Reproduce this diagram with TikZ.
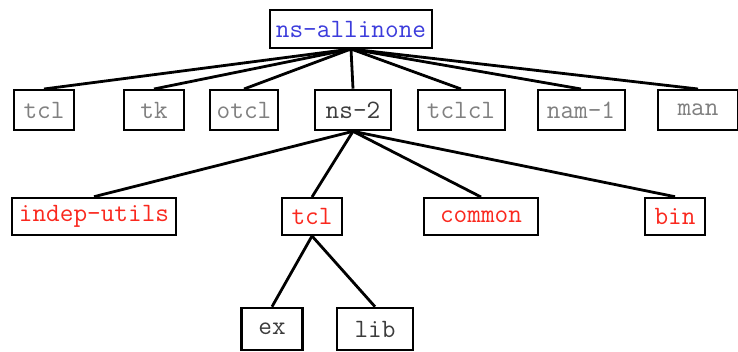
\documentclass[tikz,border=0pt]{standalone}
\usepackage{xcolor}
\usetikzlibrary{positioning}

\definecolor{dirblue}{RGB}{60,60,220}
\definecolor{dirgray}{RGB}{128,128,128}
\definecolor{dirred}{RGB}{250,40,30}
\definecolor{dirdark}{RGB}{60,60,60}

\begin{document}
\begin{tikzpicture}[x=1pt, y=-1pt, semithick]
	\tikzstyle{dir}=[draw=black, line width=2pt, fill=white, inner sep=0pt,
		font=\ttfamily\fontsize{26.5}{28}\selectfont]
	\tikzstyle{top}=[dir, text=dirblue, minimum height=38pt]
	\tikzstyle{pkg}=[dir, text=dirgray, minimum height=40pt]
	\tikzstyle{sub}=[dir, text=dirred, minimum height=37pt]
	\tikzstyle{leaf}=[dir, text=dirdark, minimum height=42pt, line width=2.6pt]
	\tikzstyle{link}=[draw=black, line width=2.8pt]
	\useasboundingbox (0,0) rectangle (738,351);
	% top of the tree
	\node[top, minimum width=162pt]  (ROOT)  at (351,29)    {ns-allinone};
	% first level
	\node[pkg, minimum width=60pt]   (TCL)   at (44,110)    {tcl};
	\node[pkg, minimum width=60pt]   (TK)    at (154,110)   {tk};
	\node[pkg, minimum width=68pt]   (OTCL)  at (244,110)   {otcl};
	\node[pkg, minimum width=76pt, text=dirdark, line width=2.6pt] (NS)    at (353,110)   {ns-2};
	\node[pkg, minimum width=87pt]   (TCLCL) at (461,110)   {tclcl};
	\node[pkg, minimum width=87pt]   (NAM)   at (581,110)   {nam-1};
	\node[pkg, minimum width=80pt]   (MAN)   at (698,110)   {man};
	% inside ns-2
	\node[sub, minimum width=164pt, line width=2.6pt] (UTILS) at (94,216.5) {indep-utils};
	\node[sub, minimum width=60pt]   (NSTCL) at (312,216.5) {tcl};
	\node[sub, minimum width=114pt]  (COMMON) at (481,216.5) {common};
	\node[sub, minimum width=60pt, line width=2.6pt] (BIN) at (675,216.5) {bin};
	% inside ns-2/tcl
	\node[leaf, minimum width=61pt]  (EX)    at (272,329)   {ex};
	\node[leaf, minimum width=76pt]  (LIB)   at (375,329)   {lib};
	% connectors
	\foreach \d in {TCL,TK,OTCL,NS,TCLCL,NAM,MAN}
		\path[link] (ROOT.south) -- (\d.north);
	\foreach \d in {UTILS,NSTCL,COMMON,BIN}
		\path[link] (NS.south) -- (\d.north);
	\foreach \d in {EX,LIB}
		\path[link] (NSTCL.south) -- (\d.north);
\end{tikzpicture}
\end{document}
